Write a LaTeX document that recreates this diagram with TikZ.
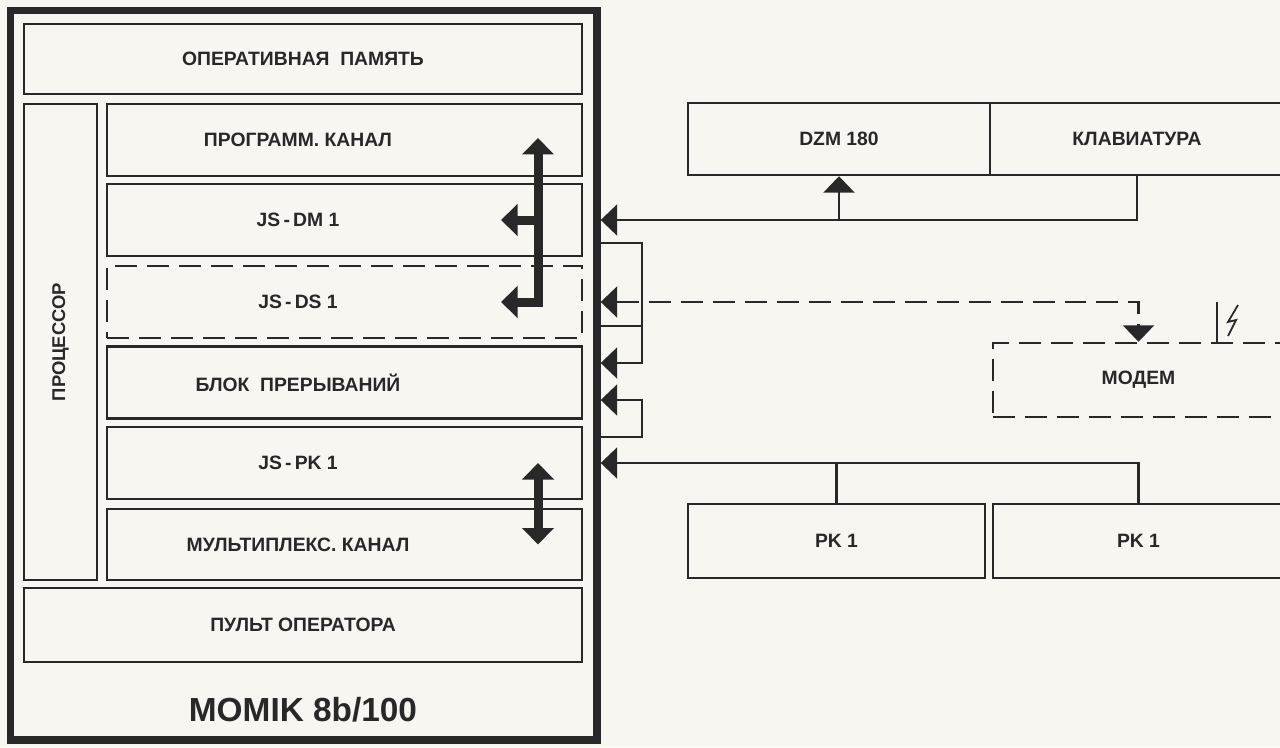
\documentclass[tikz,border=0pt]{standalone}
\usepackage{fontspec}
\setmainfont{Liberation Sans}
\usetikzlibrary{arrows.meta,calc}
\definecolor{Paper}{RGB}{247,246,240}
\definecolor{Ink}{RGB}{40,40,40}

\begin{document}
\begin{tikzpicture}[x=0.02cm, y=-0.02cm, every node/.style={font=\bfseries\fontsize{11}{13}\selectfont, align=center, text=Ink}]
\tikzset{
  box/.style={draw=Ink, line width=1.4pt, minimum height=1.44cm},
  chan/.style={box, minimum width=9.5cm},
  unit/.style={box, minimum width=11.16cm},
  dev/.style={box, minimum width=5.9cm},
  link/.style={Ink, line width=1.4pt},
  bigarrow/.style={Ink, line width=0.18cm},
  dsh/.style={dash pattern=on 0.44cm off 0.2cm},
  >={Triangle[width=0.62cm,length=0.33cm]}
}
  \path[use as bounding box, fill=Paper] (0,0) rectangle (1280,747);
  % computer frame, its right edge is the bus
  \node[draw=Ink, line width=0.15cm, minimum width=11.73cm, minimum height=14.59cm, inner sep=0] (momik) at (303.75,375.25) {};
  \node[unit, minimum height=1.4cm] (ram) at (303,59) {ОПЕРАТИВНАЯ\ \ ПАМЯТЬ};
  \node[box, rotate=90, minimum width=9.52cm, minimum height=1.46cm, font=\bfseries\fontsize{10.5}{12}\selectfont] (cpu) at (60.5,342) {ПРОЦЕССОР};
  \node[chan] (prog) at (344.5,140) {};
  \node[chan] (dm) at (344.5,220) {};
  \node[chan, dsh] (ds) at (344.5,302) {};
  \node[chan] (irq) at (344.5,382.5) {};
  \node[chan] (pkj) at (344.5,463) {};
  \node[chan, minimum height=1.42cm] (mux) at (344.5,544.5) {};
  \foreach \n/\t in {prog/ПРОГРАММ. КАНАЛ, dm/JS\,-\,DM 1, ds/JS\,-\,DS 1, irq/БЛОК\ \ ПРЕРЫВАНИЙ, pkj/JS\,-\,PK 1, mux/МУЛЬТИПЛЕКС. КАНАЛ}
    \node at ([xshift=-0.93cm]\n.center) {\t};
  \node[unit, minimum height=1.48cm] (pult) at (303,625) {ПУЛЬТ ОПЕРАТОРА};
  \node[font=\bfseries\fontsize{19}{22}\selectfont] (name) at (303,710) {MOMIK 8b/100};

  % devices
  \node[dev, minimum width=6.04cm] (dzm) at (839,139) {DZM 180};
  \node[dev, minimum width=5.88cm] (kl) at (1137,139) {КЛАВИАТУРА};
  \node[dev, dsh, minimum width=5.82cm, minimum height=1.48cm] (modem) at (1138.5,380) {МОДЕМ};
  \node[dev, minimum width=5.94cm, minimum height=1.48cm] (pk1) at (836.5,541) {PK 1};
  \node[dev, minimum width=5.82cm, minimum height=1.48cm] (pk2) at (1138.5,541) {PK 1};

  % data transfer inside
  \coordinate (pgtip) at (538,138);
  \coordinate (dmtip) at (501,220);
  \coordinate (dstip) at (501,302);
  \draw[bigarrow,<->] (dstip) -| (pgtip);
  \draw[bigarrow,->] (pgtip |- dmtip) -- (dmtip);
  \draw[bigarrow,<->] (pkj.center -| pgtip) -- (mux.center -| pgtip);

  % lines to the bus
  \draw[link,->] (kl.south) |- (momik.east |- dm.east);
  \draw[link,->] (dzm.south |- dm.east) -- (dzm.south);
  \draw[link,dsh,<->] (momik.east |- ds.east) -| (modem.north);
  \draw[link,->] (pk2.north) |- (momik.east |- pkj.east);
  \draw[link] (pk1.north) -- (pk1.north |- pkj.east);

  % interrupt requests
  \coordinate (irqtop) at (642,243);
  \coordinate (irqmid) at (642,326);
  \coordinate (irqin) at (642,363);
  \coordinate (pkin) at (642,400);
  \coordinate (pkout) at (642,437);
  \draw[link,->] (momik.east |- irqtop) -| (irqin) -- (momik.east |- irqin);
  \draw[link] (momik.east |- irqmid) -- (irqmid);
  \draw[link,->] (momik.east |- pkout) -| (pkin) -- (momik.east |- pkin);

  % line to the modem
  \coordinate (ant) at (1217,302);
  \draw[link] (ant) -- (ant |- modem.north);
  \draw[Ink, line width=1pt] ([xshift=0.42cm,yshift=-0.06cm]ant) -- ++(-10,17) -- ++(8,-2) -- ++(-8,16);
\end{tikzpicture}
\end{document}
